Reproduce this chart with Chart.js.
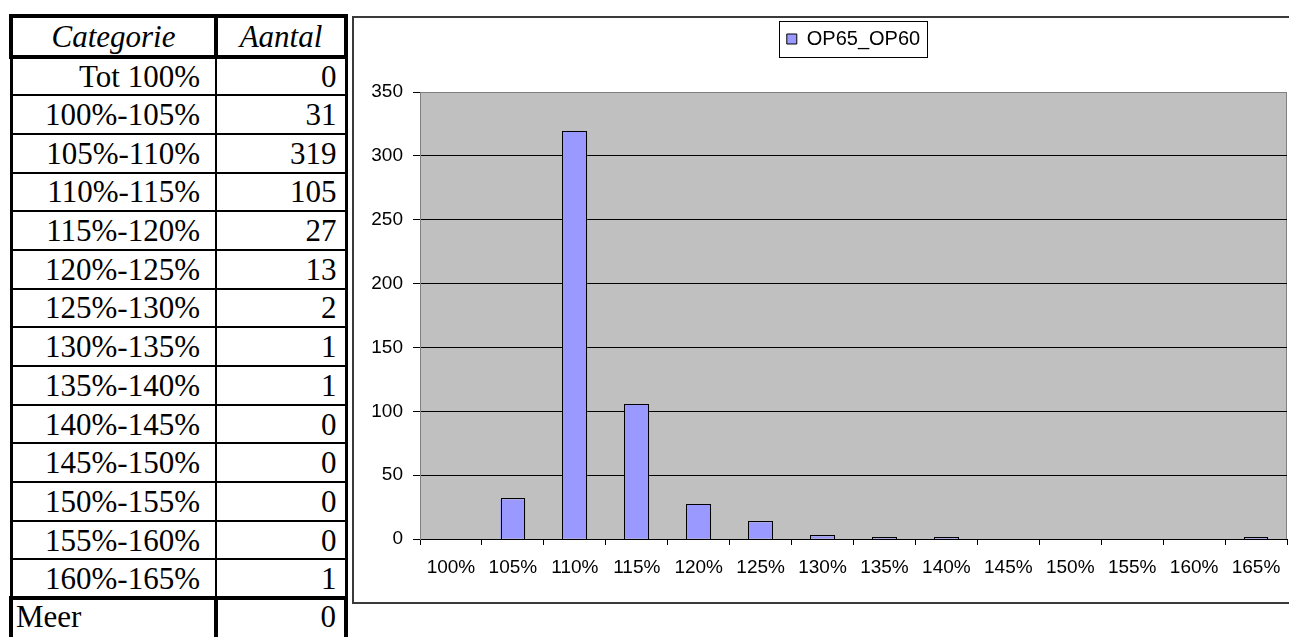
<!DOCTYPE html>
<html lang="nl">
<head>
<meta charset="utf-8">
<title>OP65_OP60</title>
<script src="https://cdn.jsdelivr.net/npm/chart.js@4.4.1/dist/chart.umd.min.js"></script>
<style>
  html, body { margin: 0; padding: 0; background: #fff; overflow: hidden; width: 1289px; height: 637px; }
  #freq {
    position: absolute; left: 9px; top: 14px;
    border-collapse: collapse; table-layout: fixed;
    font-family: 'Liberation Serif', 'Times New Roman', serif; font-size: 31px; color: #000;
    border: 3px solid #000;
  }
  #freq col.c1 { width: 205px; }
  #freq col.c2 { width: 130px; }
  #freq td, #freq th {
    border: 2px solid #000; padding: 0; line-height: 1; white-space: nowrap;
    font-weight: normal; text-align: right;
  }
  #freq tr { height: 38.7px; }
  #freq td.cat { padding-right: 15px; }
  #freq td.num { padding-right: 8px; }
  #freq tr.head { height: 40.5px; }
  #freq tr.head th { border-width: 4px; font-style: italic; text-align: center; }
  #freq tr.tail { height: 46px; }
  #freq tr.tail td { border-width: 4px; vertical-align: top; padding-top: 1px; }
  #freq tr.tail td.cat { text-align: left; padding-left: 3px; padding-right: 0; }
  #frame {
    position: absolute; left: 352px; top: 16px; width: 940px; height: 584px;
    border: 2px solid #3a3a3a;
  }
  #chart { display: block; }
</style>
</head>
<body>
<table id="freq">
  <colgroup><col class="c1"><col class="c2"></colgroup>
  <tbody id="freqBody"></tbody>
</table>
<div id="frame"><canvas id="chart" width="940" height="584"></canvas></div>
<script>
// Frequency table: bin ranges and counts
const rangeLabels = ['Tot 100%', '100%-105%', '105%-110%', '110%-115%', '115%-120%', '120%-125%',
  '125%-130%', '130%-135%', '135%-140%', '140%-145%', '145%-150%', '150%-155%',
  '155%-160%', '160%-165%', 'Meer'];
const counts = [0, 31, 319, 105, 27, 13, 2, 1, 1, 0, 0, 0, 0, 1, 0];
const headers = ['Categorie', 'Aantal'];

// Histogram axis
const binLabels = ['100%', '105%', '110%', '115%', '120%', '125%', '130%',
  '135%', '140%', '145%', '150%', '155%', '160%', '165%'];
const binCounts = counts.slice(0, binLabels.length);
const seriesName = 'OP65_OP60';
const yMax = 350;
const yStep = 50;

// Build the table
const body = document.getElementById('freqBody');
const head = document.createElement('tr');
head.className = 'head';
headers.forEach(h => { const th = document.createElement('th'); th.textContent = h; head.appendChild(th); });
body.appendChild(head);
rangeLabels.forEach((label, i) => {
  const tr = document.createElement('tr');
  if (i === rangeLabels.length - 1) tr.className = 'tail';
  const a = document.createElement('td'); a.className = 'cat'; a.textContent = label;
  const b = document.createElement('td'); b.className = 'num'; b.textContent = counts[i];
  tr.appendChild(a); tr.appendChild(b);
  body.appendChild(tr);
});

// Grey plot area with its outline
const plotBackdrop = {
  id: 'plotBackdrop',
  beforeDraw(chart) {
    const { ctx, chartArea: a } = chart;
    ctx.save();
    ctx.fillStyle = '#C0C0C0';
    ctx.fillRect(a.left, a.top, a.right - a.left, a.bottom - a.top);
    ctx.strokeStyle = '#808080';
    ctx.lineWidth = 1;
    ctx.strokeRect(Math.round(a.left) + 0.5, Math.round(a.top) + 0.5,
      Math.round(a.right - a.left) - 1, Math.round(a.bottom - a.top));
    ctx.restore();
  }
};

// Crisp 1px outline round every non-empty bar
const barOutline = {
  id: 'barOutline',
  afterDatasetsDraw(chart) {
    const { ctx } = chart;
    const meta = chart.getDatasetMeta(0);
    const values = chart.data.datasets[0].data;
    ctx.save();
    ctx.strokeStyle = '#000';
    ctx.lineWidth = 1;
    meta.data.forEach((bar, i) => {
      if (!values[i]) return;
      const { x, y, base, width } = bar.getProps(['x', 'y', 'base', 'width'], true);
      const l = Math.round(x - width / 2) + 0.5;
      const r = Math.round(x + width / 2) - 0.5;
      const t = Math.round(y) - 0.5;
      const b = Math.round(base) + 0.5;
      ctx.strokeRect(l, t, r - l, b - t);
    });
    ctx.restore();
  }
};

// Extra room below the legend
const legendGap = {
  id: 'legendGap',
  beforeInit(chart) {
    const fit = chart.legend.fit;
    chart.legend.fit = function () { fit.call(this); this.height += 33; };
  }
};

// Thin box around the legend entry
const legendFrame = {
  id: 'legendFrame',
  afterDraw(chart) {
    const boxes = chart.legend && chart.legend.legendHitBoxes;
    if (!boxes || !boxes.length) return;
    const hb = boxes[0];
    const { ctx } = chart;
    const cy = hb.top + hb.height / 2;
    const x0 = Math.round(hb.left - 8) + 0.5;
    const x1 = Math.round(hb.left + hb.width + 7) + 0.5;
    const y0 = Math.round(cy - 18) + 0.5;
    const y1 = Math.round(cy + 18) + 0.5;
    ctx.save();
    ctx.strokeStyle = '#000';
    ctx.lineWidth = 1;
    ctx.strokeRect(x0, y0, x1 - x0, y1 - y0);
    ctx.restore();
  }
};

Chart.defaults.font.family = "'Liberation Sans', Arial, sans-serif";
Chart.defaults.font.size = 19;
Chart.defaults.color = '#000';

new Chart(document.getElementById('chart'), {
  type: 'bar',
  data: {
    labels: binLabels,
    datasets: [{
      label: seriesName,
      data: binCounts,
      backgroundColor: '#9999FF',
      borderWidth: 0,
      barPercentage: 0.4,
      categoryPercentage: 1.0
    }]
  },
  options: {
    responsive: false,
    animation: false,
    layout: { padding: { top: 1, right: 7, left: 0, bottom: 0 } },
    plugins: {
      legend: {
        position: 'top',
        fullSize: false,
        labels: {
          boxWidth: 10, boxHeight: 10, padding: 10, font: { size: 20 }, color: '#000',
          generateLabels(chart) {
            const items = Chart.defaults.plugins.legend.labels.generateLabels(chart);
            items.forEach(it => { it.strokeStyle = '#000'; it.lineWidth = 1; });
            return items;
          }
        }
      },
      tooltip: { enabled: false }
    },
    scales: {
      x: {
        grid: { offset: true, drawOnChartArea: false, drawTicks: true, tickLength: 6, tickColor: '#000', color: '#000' },
        border: { color: '#000', width: 1 },
        ticks: { padding: 11, autoSkip: false, maxRotation: 0, minRotation: 0 },
        afterFit(scale) { scale.height = 63; }
      },
      y: {
        min: 0,
        max: yMax,
        ticks: { stepSize: yStep, padding: 10 },
        grid: {
          tickLength: 7,
          tickColor: '#000',
          color: c => (c.tick && c.tick.value === yMax ? '#808080' : '#000')
        },
        border: { color: '#808080', width: 1 },
        afterFit(scale) { scale.width = 66; }
      }
    }
  },
  plugins: [plotBackdrop, barOutline, legendGap, legendFrame]
});
</script>
</body>
</html>
